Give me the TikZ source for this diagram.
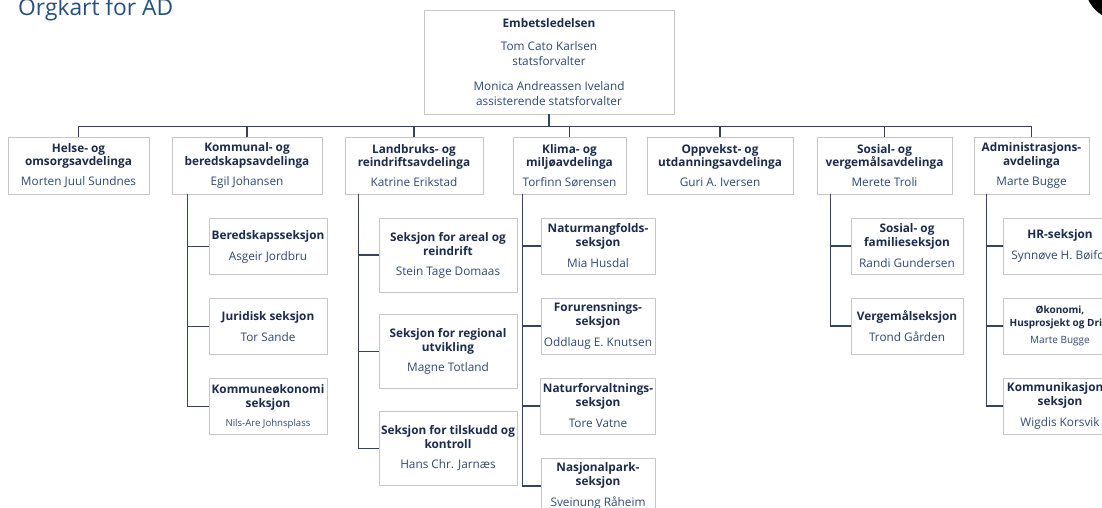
\documentclass[tikz,border=0pt]{standalone}
\usepackage{fontspec}
\setmainfont{Open Sans}
\usetikzlibrary{positioning}
\definecolor{titleblue}{HTML}{24507F}
\definecolor{headblue}{HTML}{1B2B4B}
\definecolor{nameblue}{HTML}{2E4A72}
\definecolor{linenavy}{HTML}{34445F}
\definecolor{boxgray}{HTML}{C6C6C6}
\newcommand{\hd}[1]{\textbf{\color{headblue}#1}}

\begin{document}
\begin{tikzpicture}[
	x=1pt, y=-1pt,
	node distance = 80pt,
	orgbox/.style={rectangle, draw=boxgray, line width=0.9pt, fill=white, align=center, inner sep=2pt, text=nameblue, font=\fontsize{11.8}{14}\selectfont},
	topbox/.style={orgbox, minimum width=250pt, minimum height=104pt, font=\fontsize{11.8}{15}\selectfont},
	deptbox/.style={orgbox, minimum height=57pt, font=\fontsize{11.8}{13.5}\selectfont},
	secbox/.style={orgbox, minimum height=56pt},
	orgline/.style={draw=linenavy, line width=1.4pt},
	]
	\useasboundingbox (0,0) rectangle (1102,508);
	\fill[black] (1120,-15) circle (35pt);
	\node[anchor=base west, inner sep=0pt, text=titleblue, font=\fontsize{22.8}{26}\selectfont] (title) at (18,16) {Orgkart for AD};

	%Nodes
	\node[topbox]     (ledelse)  at (549,62)     {\hd{Embetsledelsen}\\[8pt]Tom Cato Karlsen\\statsforvalter\\[10pt]Monica Andreassen Iveland\\assisterende statsforvalter};
	\node[deptbox, minimum width=141pt]     (helse)    at (78.5,165.5)  {\hd{Helse- og}\\\hd{omsorgsavdelinga}\\[6.5pt]Morten Juul Sundnes};
	\node[deptbox, minimum width=150pt]     (kommunal) at (247,165.5)   {\hd{Kommunal- og}\\\hd{beredskapsavdelinga}\\[6.5pt]Egil Johansen};
	\node[deptbox, minimum width=138pt]     (landbruk) at (414,165.5)   {\hd{Landbruks- og}\\\hd{reindriftsavdelinga}\\[6.5pt]Katrine Erikstad};
	\node[deptbox, minimum width=113pt]     (klima)    at (569.5,165.5) {\hd{Klima- og}\\\hd{miljøavdelinga}\\[6.5pt]Torfinn Sørensen};
	\node[deptbox, minimum width=146pt]     (oppvekst) at (720,165.5)   {\hd{Oppvekst- og}\\\hd{utdanningsavdelinga}\\[6.5pt]Guri A. Iversen};
	\node[deptbox, minimum width=135pt]     (sosial)   at (884.5,165.5) {\hd{Sosial- og}\\\hd{vergemålsavdelinga}\\[6.5pt]Merete Troli};
	\node[deptbox, minimum width=115pt]     (admin)    at (1031.5,165.5) {\hd{Administrasjons-}\\\hd{avdelinga}\\[6.5pt]Marte Bugge};

	\node[secbox, minimum width=118pt]     (bered)    at (268,246.5)  {\hd{Beredskapsseksjon}\\[7pt]Asgeir Jordbru};
	\node[secbox, minimum width=118pt]     (jurid)    [below of = bered] {\hd{Juridisk seksjon}\\[7pt]Tor Sande};
	\node[secbox, minimum width=118pt]     (kommok)   [below of = jurid] {\hd{Kommuneøkonomi}\\\hd{seksjon}\\[5pt]{\fontsize{9.6}{11}\selectfont Nils-Are Johnsplass}};

	\node[secbox, minimum width=138pt, minimum height=74pt]     (areal)    at (448,255)  {\hd{Seksjon for areal og}\\\hd{reindrift}\\[6pt]Stein Tage Domaas};
	\node[secbox, minimum width=138pt, minimum height=74pt, node distance=96.7pt]     (regional) [below of = areal] {\hd{Seksjon for regional}\\\hd{utvikling}\\[6pt]Magne Totland};
	\node[secbox, minimum width=138pt, minimum height=74pt, node distance=96.7pt]     (tilskudd) [below of = regional] {\hd{Seksjon for tilskudd og}\\\hd{kontroll}\\[6pt]Hans Chr. Jarnæs};

	\node[secbox, minimum width=114pt]     (naturm)   at (598,246)  {\hd{Naturmangfolds-}\\\hd{seksjon}\\[7pt]Mia Husdal};
	\node[secbox, minimum width=114pt]     (forur)    [below of = naturm] {\hd{Forurensnings-}\\\hd{seksjon}\\[7pt]Oddlaug E. Knutsen};
	\node[secbox, minimum width=114pt]     (naturf)   [below of = forur] {\hd{Naturforvaltnings-}\\\hd{seksjon}\\[7pt]Tore Vatne};
	\node[secbox, minimum width=114pt]     (nasjonal) [below of = naturf] {\hd{Nasjonalpark-}\\\hd{seksjon}\\[7pt]Sveinung Råheim};

	\node[secbox, minimum width=112pt]     (sosfam)   at (907,246)  {\hd{Sosial- og}\\\hd{familieseksjon}\\[7pt]Randi Gundersen};
	\node[secbox, minimum width=112pt]     (vergem)   [below of = sosfam] {\hd{Vergemålseksjon}\\[7pt]Trond Gården};

	\node[secbox, minimum width=114pt]     (hr)       at (1060,246) {\hd{HR-seksjon}\\[7pt]Synnøve H. Bøifot};
	\node[secbox, minimum width=114pt, font=\fontsize{10}{12.5}\selectfont]     (okonomi)  [below of = hr] {\hd{Økonomi,}\\\hd{Husprosjekt og Drift}\\[5pt]Marte Bugge};
	\node[secbox, minimum width=114pt]     (kommunik) [below of = okonomi] {\hd{Kommunikasjons-}\\\hd{seksjon}\\[7pt]Wigdis Korsvik};

	%Lines
	\foreach \dept in {helse, kommunal, landbruk, klima, oppvekst, sosial, admin}
		\draw[orgline] (ledelse.south) -- ++(0,12) -| (\dept.north);
	\foreach \sec in {bered, jurid, kommok}
		\draw[orgline] ([xshift=16pt]kommunal.south west) |- (\sec.west);
	\foreach \sec in {areal, regional, tilskudd}
		\draw[orgline] ([xshift=14pt]landbruk.south west) |- (\sec.west);
	\foreach \sec in {naturm, forur, naturf, nasjonal}
		\draw[orgline] ([xshift=10pt]klima.south west) |- (\sec.west);
	\foreach \sec in {sosfam, vergem}
		\draw[orgline] ([xshift=14pt]sosial.south west) |- (\sec.west);
	\foreach \sec in {hr, okonomi, kommunik}
		\draw[orgline] ([xshift=13pt]admin.south west) |- (\sec.west);
\end{tikzpicture}
\end{document}
